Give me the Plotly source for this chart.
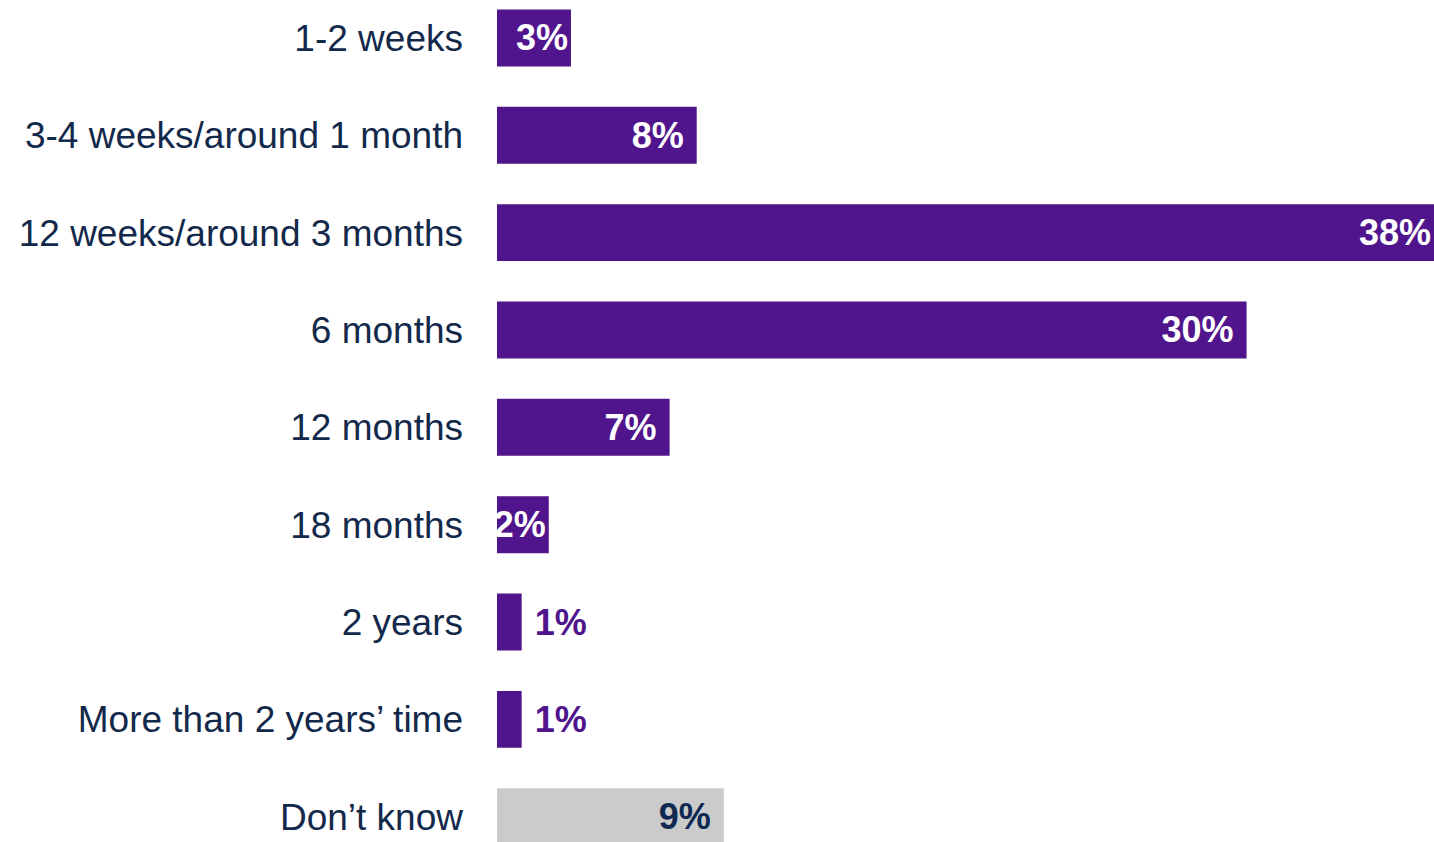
import plotly.graph_objects as go

categories = [
    "1-2 weeks",
    "3-4 weeks/around 1 month",
    "12 weeks/around 3 months",
    "6 months",
    "12 months",
    "18 months",
    "2 years",
    "More than 2 years\u2019 time",
    "Don\u2019t know",
]
values = [3.0, 8.1, 38.0, 30.4, 7.0, 2.1, 1.0, 1.0, 9.2]
labels = ["3%", "8%\u00a0", "38%", "30%\u00a0", "7%\u00a0", "2%", " 1%", " 1%", "9%\u00a0"]

PURPLE = "#50158C"
GREY = "#CBCBCB"
NAVY = "#13294B"

bar_colors = [PURPLE] * 8 + [GREY]
text_pos = ["inside"] * 6 + ["outside", "outside", "inside"]
text_colors = ["white"] * 6 + [PURPLE, PURPLE, "#0E2A52"]

fig = go.Figure(
    go.Bar(
        x=values,
        y=categories,
        orientation="h",
        marker=dict(color=bar_colors, line=dict(width=0)),
        width=0.585,
        text=labels,
        textposition=text_pos,
        insidetextanchor="end",
        constraintext="none",
        textangle=0,
        cliponaxis=False,
        textfont=dict(family="Liberation Sans, Arial, sans-serif", size=36,
                      color=text_colors, weight="bold"),
        hoverinfo="skip",
    )
)

fig.update_layout(
    width=1434,
    height=842,
    margin=dict(l=497, r=0, t=0, b=0),
    plot_bgcolor="white",
    paper_bgcolor="white",
    showlegend=False,
    font=dict(family="Liberation Sans, Arial, sans-serif", size=37, color=NAVY),
)
fig.update_xaxes(range=[0, 38], visible=False, showgrid=False, zeroline=False)
fig.update_yaxes(
    type="category",
    categoryorder="array",
    categoryarray=categories,
    range=[8.26, -0.39],
    showgrid=False,
    zeroline=False,
    showline=False,
    ticks="",
    ticklabelstandoff=33,
    tickfont=dict(size=37, color=NAVY),
)

fig.write_html(
    "out.html",
    config={"displayModeBar": False},
    post_script="document.body.style.margin='0';document.body.style.overflow='hidden';",
)
